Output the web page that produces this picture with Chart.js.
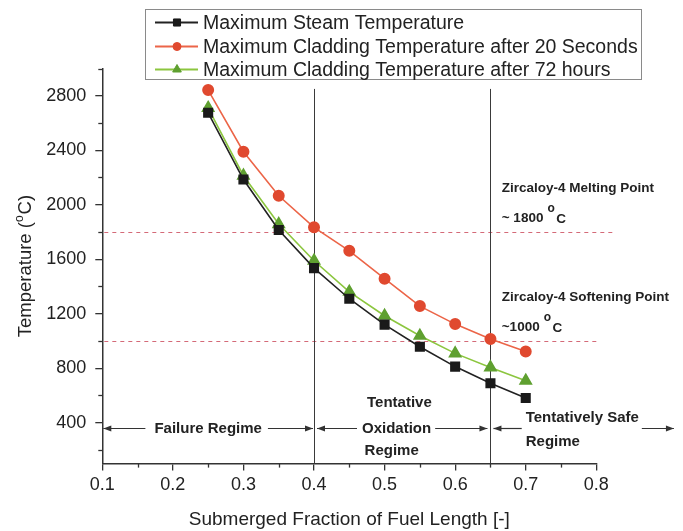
<!DOCTYPE html>
<html>
<head>
<meta charset="utf-8">
<script src="https://cdn.jsdelivr.net/npm/chart.js@4.4.1/dist/chart.umd.min.js"></script>
<style>
  html, body { margin: 0; padding: 0; background: #fff; }
  #wrap { width: 683px; height: 531px; position: relative; }
</style>
</head>
<body>
<div id="wrap"><canvas id="chart" width="683" height="531"></canvas></div>
<script>
// Submerged fraction of the fuel length (x) and peak temperatures in °C (y)
const fractions   = [0.25, 0.30, 0.35, 0.40, 0.45, 0.50, 0.55, 0.60, 0.65, 0.70];
const steamTemp   = [2675, 2185, 1815, 1535, 1310, 1120, 958, 812, 690, 582];
const clad20s     = [2842, 2389, 2066, 1834, 1662, 1457, 1256, 1124, 1014, 923];
const clad72h     = [2710, 2213, 1858, 1589, 1361, 1185, 1038, 909, 806, 708];
const seriesNames = [
  'Maximum Steam Temperature',
  'Maximum Cladding Temperature after 20 Seconds',
  'Maximum Cladding Temperature after 72 hours'
];

// Axis ticks
const xTickValues = [0.1, 0.2, 0.3, 0.4, 0.5, 0.6, 0.7, 0.8];
const xMinorTicks = [0.15, 0.25, 0.35, 0.45, 0.55, 0.65, 0.75];
const yTickValues = [400, 800, 1200, 1600, 2000, 2400, 2800];
const yMinorTicks = [200, 600, 1000, 1400, 1800, 2200, 2600, 3000];

// Zircaloy-4 limits and regime boundaries
const limitTemps    = [1800, 1000];
const limitNames    = ['Zircaloy-4 Melting Point', 'Zircaloy-4 Softening Point'];
const limitValues   = ['~ 1800', '~1000'];
const regimeBounds  = [0.4, 0.65];

const FONT = "'Liberation Sans', Arial, Helvetica, sans-serif";
const INK = '#222';
const AXIS = '#333';

const pts = arr => fractions.map((f, i) => ({ x: f, y: arr[i] }));

// Minor ticks, limit lines and regime boundary lines
const guidesPlugin = {
  id: 'guides',
  beforeDatasetsDraw(chart) {
    const { ctx, chartArea: a, scales: { x, y } } = chart;
    ctx.save();
    // limit lines (dashed)
    const limitEnds = [0.825, 0.80];
    ctx.strokeStyle = '#d46a78';
    ctx.lineWidth = 1;
    ctx.setLineDash([4, 4]);
    limitTemps.forEach((t, i) => {
      const py = Math.round(y.getPixelForValue(t)) + 0.5;
      ctx.beginPath();
      ctx.moveTo(a.left + 2, py);
      ctx.lineTo(x.getPixelForValue(limitEnds[i]), py);
      ctx.stroke();
    });
    ctx.setLineDash([]);
    // regime boundaries
    ctx.strokeStyle = '#3a3a3a';
    ctx.lineWidth = 1;
    regimeBounds.forEach(b => {
      const px = Math.round(x.getPixelForValue(b)) + 0.5;
      ctx.beginPath();
      ctx.moveTo(px, y.getPixelForValue(100));
      ctx.lineTo(px, y.getPixelForValue(2850));
      ctx.stroke();
    });
    ctx.restore();
  },
  afterDraw(chart) {
    const { ctx, chartArea: a, scales: { x, y } } = chart;
    ctx.save();
    ctx.strokeStyle = AXIS;
    ctx.lineWidth = 1.3;
    yMinorTicks.forEach(v => {
      const py = Math.round(y.getPixelForValue(v)) + 0.5;
      ctx.beginPath(); ctx.moveTo(a.left - 4, py); ctx.lineTo(a.left, py); ctx.stroke();
    });
    xMinorTicks.forEach(v => {
      const px = Math.round(x.getPixelForValue(v)) + 0.5;
      ctx.beginPath(); ctx.moveTo(px, a.bottom); ctx.lineTo(px, a.bottom + 4); ctx.stroke();
    });
    ctx.restore();
  }
};

// Text annotations: limit labels and regime arrows
function arrowHead(ctx, x, y, dir) {
  ctx.beginPath();
  ctx.moveTo(x, y);
  ctx.lineTo(x - dir * 8, y - 3);
  ctx.lineTo(x - dir * 8, y + 3);
  ctx.closePath();
  ctx.fill();
}
function hLine(ctx, x1, x2, y) {
  ctx.beginPath(); ctx.moveTo(x1, y); ctx.lineTo(x2, y); ctx.stroke();
}

const notesPlugin = {
  id: 'notes',
  afterDatasetsDraw(chart) {
    const { ctx, scales: { x, y } } = chart;
    ctx.save();
    ctx.fillStyle = INK;
    ctx.textBaseline = 'middle';
    ctx.textAlign = 'left';

    // Zircaloy-4 limit labels
    const lx = x.getPixelForValue(0.666);
    limitTemps.forEach((t, i) => {
      const ly = y.getPixelForValue(t);
      ctx.font = `bold 13.5px ${FONT}`;
      ctx.fillText(limitNames[i], lx, ly - 43.5);
      ctx.fillText(limitValues[i], lx, ly - 13.5);
      let cx = lx + ctx.measureText(limitValues[i]).width + 4;
      ctx.font = `bold 12px ${FONT}`;
      ctx.fillText('o', cx, ly - 23);
      cx += ctx.measureText('o').width + 1.5;
      ctx.font = `bold 13.5px ${FONT}`;
      ctx.fillText('C', cx, ly - 12.5);
    });

    // Regime arrows
    const ay = Math.round(y.getPixelForValue(360)) + 0.5;
    ctx.strokeStyle = AXIS;
    ctx.fillStyle = AXIS;
    ctx.lineWidth = 1.2;
    ctx.font = `bold 15px ${FONT}`;
    const p = v => x.getPixelForValue(v);

    // Failure regime
    {
      const t = 'Failure Regime';
      const w = ctx.measureText(t).width;
      const c = p(0.25);
      const a0 = p(0.1) + 1, b0 = p(0.4) - 1;
      hLine(ctx, a0, c - w / 2 - 9, ay); arrowHead(ctx, a0, ay, -1);
      hLine(ctx, c + w / 2 + 6, b0, ay); arrowHead(ctx, b0, ay, 1);
      ctx.fillStyle = INK;
      ctx.textAlign = 'center';
      ctx.fillText(t, c, ay);
    }
    // Tentative oxidation regime
    {
      ctx.fillStyle = AXIS;
      const t = 'Oxidation';
      const w = ctx.measureText(t).width;
      const c = p(0.517);
      const a0 = p(0.4) + 3, b0 = p(0.65) - 3;
      hLine(ctx, a0, c - w / 2 - 5, ay); arrowHead(ctx, a0, ay, -1);
      hLine(ctx, c + w / 2 + 4, b0, ay); arrowHead(ctx, b0, ay, 1);
      ctx.fillStyle = INK;
      ctx.textAlign = 'center';
      ctx.fillText('Tentative', p(0.521), ay - 25.5);
      ctx.fillText(t, c, ay);
      ctx.fillText('Regime', p(0.51), ay + 22.5);
    }
    // Tentatively safe regime
    {
      ctx.fillStyle = AXIS;
      const t = 'Tentatively Safe';
      const left = p(0.7);
      const w = ctx.measureText(t).width;
      const a0 = p(0.65) + 3, end = p(0.91);
      hLine(ctx, a0, left - 4, ay); arrowHead(ctx, a0, ay, -1);
      hLine(ctx, left + w + 3, end, ay); arrowHead(ctx, end, ay, 1);
      ctx.fillStyle = INK;
      ctx.textAlign = 'left';
      ctx.fillText(t, left, ay - 11);
      ctx.fillText('Regime', left, ay + 13);
    }
    ctx.restore();
  },
  afterDraw(chart) {
    const { ctx, chartArea: a } = chart;
    ctx.save();
    // Y axis title with superscript degree mark
    ctx.translate(24, (a.top + a.bottom) / 2);
    ctx.rotate(-Math.PI / 2);
    ctx.fillStyle = INK;
    ctx.textBaseline = 'alphabetic';
    ctx.textAlign = 'left';
    const big = `18.5px ${FONT}`, small = `12px ${FONT}`;
    ctx.font = big;
    const w1 = ctx.measureText('Temperature (').width;
    const w3 = ctx.measureText('C)').width;
    ctx.font = small;
    const w2 = ctx.measureText('o').width;
    let sx = -(w1 + w2 + w3 + 1) / 2;
    ctx.font = big;
    ctx.fillText('Temperature (', sx, 6.7);
    sx += w1;
    ctx.font = small;
    ctx.fillText('o', sx, -1.5);
    sx += w2 + 1;
    ctx.font = big;
    ctx.fillText('C)', sx, 6.7);
    ctx.restore();

    // Legend
    ctx.save();
    const box = { x: 145.5, y: 9.5, w: 496, h: 70 };
    ctx.fillStyle = '#fff';
    ctx.fillRect(box.x, box.y, box.w, box.h);
    ctx.strokeStyle = '#8a8a8a';
    ctx.lineWidth = 1;
    ctx.strokeRect(box.x, box.y, box.w, box.h);
    const rows = [22.5, 46.5, 69.5];
    const markerR = [5, 4, 5];
    chart.data.datasets.forEach((ds, i) => {
      const ry = rows[i];
      ctx.strokeStyle = ds.borderColor;
      ctx.lineWidth = 1.8;
      hLine(ctx, 155, 198, ry);
      ctx.fillStyle = ds.pointBackgroundColor;
      ctx.strokeStyle = ds.pointBackgroundColor;
      ctx.lineWidth = 1;
      Chart.helpers.drawPoint(ctx, { pointStyle: ds.pointStyle, radius: markerR[i], borderWidth: 1, rotation: 0 }, 177, ry);
      ctx.fillStyle = INK;
      ctx.font = `19.5px ${FONT}`;
      ctx.textBaseline = 'middle';
      ctx.textAlign = 'left';
      ctx.fillText(ds.label, 203, ry + 1);
    });
    ctx.restore();
  }
};

const tickFont = { family: FONT, size: 18 };

new Chart(document.getElementById('chart'), {
  type: 'line',
  data: {
    datasets: [
      {
        label: seriesNames[0], data: pts(steamTemp),
        borderColor: '#222222', pointBackgroundColor: '#1a1a1a', pointBorderColor: '#1a1a1a',
        pointStyle: 'rect', pointRadius: 6, borderWidth: 1.6
      },
      {
        label: seriesNames[1], data: pts(clad20s),
        borderColor: '#ec6548', pointBackgroundColor: '#e0492f', pointBorderColor: '#e0492f',
        pointStyle: 'circle', pointRadius: 5.2, borderWidth: 1.6
      },
      {
        label: seriesNames[2], data: pts(clad72h),
        borderColor: '#8cc63f', pointBackgroundColor: '#5fa030', pointBorderColor: '#5fa030',
        pointStyle: 'triangle', pointRadius: 6.5, borderWidth: 1.6
      }
    ]
  },
  options: {
    responsive: false,
    animation: false,
    devicePixelRatio: 1,
    layout: { padding: { top: 68.5, right: 86.7, left: 0, bottom: 0 } },
    elements: { line: { tension: 0 }, point: { borderWidth: 1 } },
    plugins: { legend: { display: false }, tooltip: { enabled: false }, title: { display: false } },
    scales: {
      x: {
        type: 'linear', min: 0.1, max: 0.8,
        afterBuildTicks: s => { s.ticks = xTickValues.map(v => ({ value: v })); },
        afterFit: s => { s.height = 67.4; },
        ticks: { font: tickFont, color: INK, padding: 4, maxRotation: 0, autoSkip: false,
                 callback: v => Number(v).toFixed(1) },
        grid: { display: true, drawOnChartArea: false, drawTicks: true, tickLength: 7, color: AXIS, lineWidth: 1.3 },
        border: { display: true, color: AXIS, width: 1.5 },
        title: { display: true, text: 'Submerged Fraction of Fuel Length [-]', color: INK,
                 font: { family: FONT, size: 19 }, padding: { top: 0, bottom: 0 } }
      },
      y: {
        type: 'linear', min: 100, max: 3000,
        afterBuildTicks: s => { s.ticks = yTickValues.map(v => ({ value: v })); },
        afterFit: s => { s.width = 102.3; },
        ticks: { font: tickFont, color: INK, padding: 9, callback: v => String(v) },
        grid: { display: true, drawOnChartArea: false, drawTicks: true, tickLength: 7, color: AXIS, lineWidth: 1.3 },
        border: { display: true, color: AXIS, width: 1.5 },
        title: { display: false }
      }
    }
  },
  plugins: [guidesPlugin, notesPlugin]
});
</script>
</body>
</html>
